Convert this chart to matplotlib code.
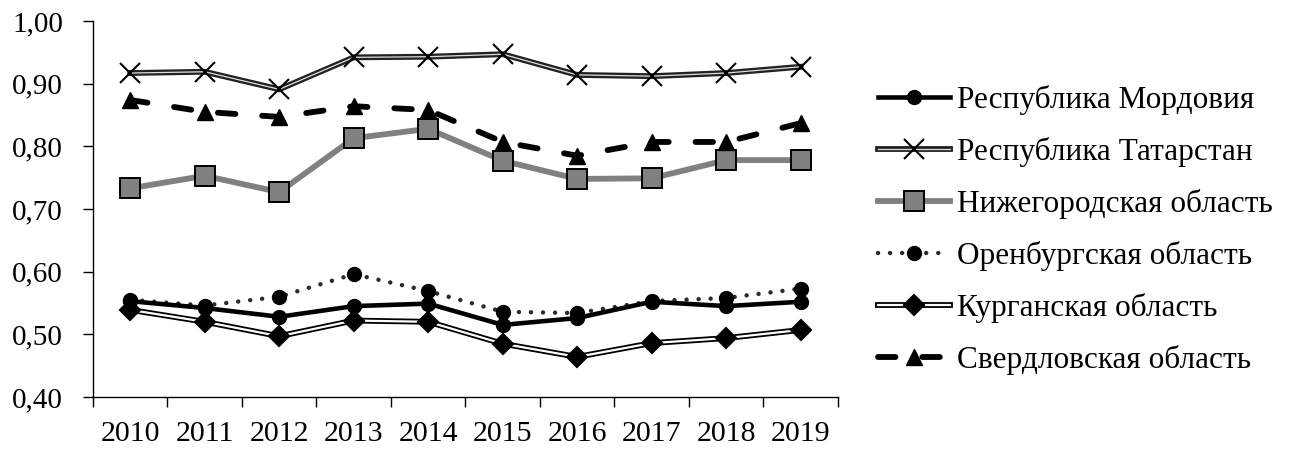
import matplotlib

matplotlib.use("Agg")

import matplotlib.pyplot as plt
from matplotlib.legend_handler import HandlerTuple
from matplotlib.ticker import FuncFormatter
import numpy as np


years = ["2010", "2011", "2012", "2013", "2014", "2015", "2016", "2017", "2018", "2019"]

mordovia = [0.553, 0.542, 0.528, 0.545, 0.549, 0.515, 0.526, 0.552, 0.545, 0.552]
tatarstan = [0.917, 0.919, 0.891, 0.942, 0.943, 0.947, 0.914, 0.912, 0.917, 0.927]
nizhny = [0.733, 0.753, 0.727, 0.813, 0.828, 0.777, 0.748, 0.749, 0.778, 0.778]
orenburg = [0.555, 0.546, 0.560, 0.596, 0.569, 0.536, 0.534, 0.553, 0.558, 0.573]
kurgan = [0.539, 0.520, 0.497, 0.522, 0.520, 0.485, 0.464, 0.486, 0.494, 0.507]
sverdlovsk = [0.874, 0.855, 0.847, 0.864, 0.858, 0.807, 0.785, 0.807, 0.807, 0.837]

labels = [
    "Республика Мордовия",
    "Республика Татарстан",
    "Нижегородская область",
    "Оренбургская область",
    "Курганская область",
    "Свердловская область",
]

plt.rcParams["font.family"] = ["Liberation Serif", "DejaVu Serif"]

fig = plt.figure(figsize=(12.95, 4.5), dpi=100)
ax = fig.add_axes([0.0718, 0.1178, 0.6471 - 0.0718, 0.9533 - 0.1178])
x = np.arange(len(years))


def double_line(values, outer, inner, outer_lw, inner_lw, marker, ms, z):
    a, = ax.plot(x, values, color=outer, lw=outer_lw, solid_joinstyle="miter", zorder=z)
    b, = ax.plot(x, values, color=inner, lw=inner_lw, solid_joinstyle="miter", zorder=z + 0.1)
    c, = ax.plot(x, values, ls="none", marker=marker, ms=ms, color="black",
                 mfc="black", mec="black", mew=1.5, zorder=z + 0.2)
    return (a, b, c)


# Нижегородская область
h_nizh, = ax.plot(x, nizhny, color="#808080", lw=4.2, marker="s", ms=14,
                  mfc="#808080", mec="black", mew=1.4, zorder=2)

# Свердловская область
h_sverd, = ax.plot(x, sverdlovsk, color="black", lw=4.2, dashes=(3, 4.6),
                   dash_capstyle="round", marker="^", ms=12, mfc="black",
                   mec="black", zorder=3)

# Республика Татарстан
h_tat = double_line(tatarstan, "#222222", "#dddddd", 4.2, 0.9, "x", 14, 4)

# Курганская область
h_kurg = double_line(kurgan, "black", "white", 4.2, 1.6, "D", 10, 5)

# Оренбургская область
h_oren, = ax.plot(x, orenburg, color="#2a2a2a", lw=3.2, dashes=(0.01, 2.7),
                  dash_capstyle="round", marker="o", ms=10, mfc="black",
                  mec="black", zorder=6)

# Республика Мордовия
h_mord, = ax.plot(x, mordovia, color="black", lw=3.3, marker="o", ms=10,
                  mfc="black", mec="black", zorder=7)

ax.set_xlim(-0.5, len(years) - 0.5)
ax.set_ylim(0.40, 1.00)
ax.set_yticks(np.arange(0.40, 1.001, 0.10))
ax.yaxis.set_major_formatter(FuncFormatter(lambda v, _: f"{v:.2f}".replace(".", ",")))

ax.set_xticks(np.arange(-0.5, len(years), 1.0))
ax.set_xticklabels([])
ax.set_xticks(x, minor=True)
ax.set_xticklabels(years, minor=True)
ax.tick_params(axis="x", which="major", direction="out", length=7, width=1)
ax.tick_params(axis="x", which="minor", length=0, pad=17, labelsize=21.5)
ax.tick_params(axis="y", direction="out", length=7.5, width=1, labelsize=21, pad=14)

for side in ["top", "right"]:
    ax.spines[side].set_visible(False)
for side in ["left", "bottom"]:
    ax.spines[side].set_linewidth(1.0)
    ax.spines[side].set_color("black")

handles = [h_mord, h_tat, h_nizh, h_oren, h_kurg, h_sverd]
fig.legend(
    handles,
    labels,
    loc="center left",
    bbox_to_anchor=(0.678, 0.489),
    frameon=False,
    fontsize=22.5,
    borderpad=0,
    borderaxespad=0,
    handlelength=2.3,
    handletextpad=0.22,
    labelspacing=0.7,
    numpoints=1,
    handler_map={tuple: HandlerTuple(ndivide=1)},
)

fig.savefig("out.png", dpi=100)
